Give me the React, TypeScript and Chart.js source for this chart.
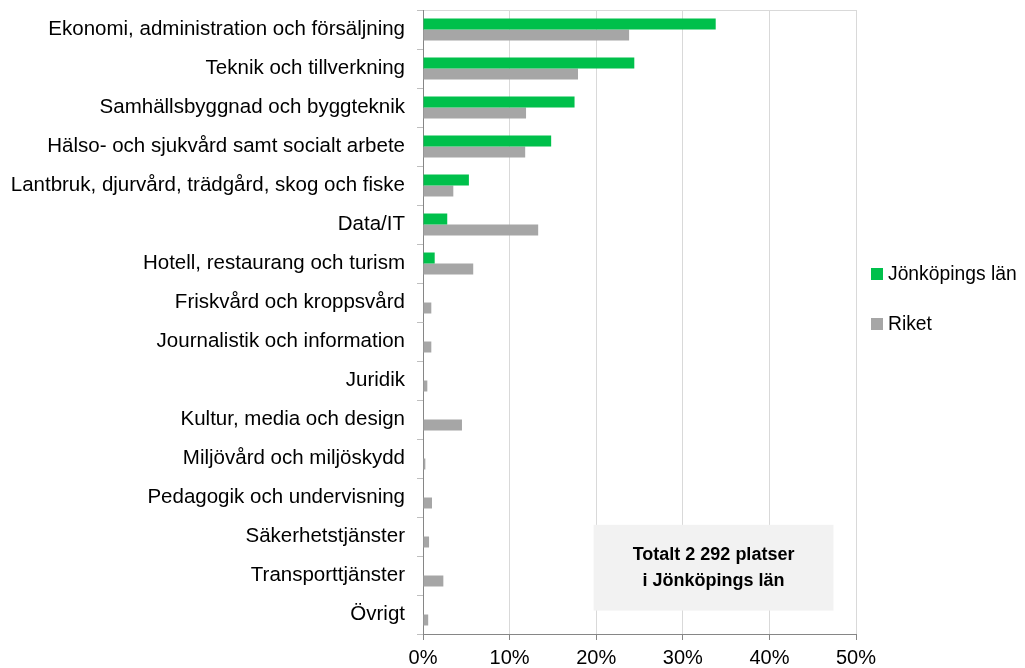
import React, { useEffect, useRef } from "react";
import { Chart, registerables } from "chart.js";

Chart.register(...registerables);

const categories = [
  "Ekonomi, administration och försäljning",
  "Teknik och tillverkning",
  "Samhällsbyggnad och byggteknik",
  "Hälso- och sjukvård samt socialt arbete",
  "Lantbruk, djurvård, trädgård, skog och fiske",
  "Data/IT",
  "Hotell, restaurang och turism",
  "Friskvård och kroppsvård",
  "Journalistik och information",
  "Juridik",
  "Kultur, media och design",
  "Miljövård och miljöskydd",
  "Pedagogik och undervisning",
  "Säkerhetstjänster",
  "Transporttjänster",
  "Övrigt",
];

const jonkopingValues = [33.8, 24.4, 17.5, 14.8, 5.3, 2.8, 1.35, 0, 0, 0, 0, 0, 0, 0, 0, 0];
const riketValues = [23.8, 17.9, 11.9, 11.8, 3.5, 13.3, 5.8, 0.96, 0.96, 0.5, 4.5, 0.27, 1.04, 0.7, 2.35, 0.6];

const seriesNames = ["Jönköpings län", "Riket"];
const seriesColors = ["#00C04B", "#A6A6A6"];
const xTicks = [0, 10, 20, 30, 40, 50];
const boxLines = ["Totalt 2 292 platser", "i Jönköpings län"];

const FONT = "'Liberation Sans', Arial, sans-serif";

const extrasPlugin = {
  id: "extras",
  afterDraw(chart: any) {
    const ctx = chart.ctx;
    const x = chart.scales.x;
    const y = chart.scales.y;
    const area = chart.chartArea;
    ctx.save();
    // annotation box
    const bx1 = x.getPixelForValue(19.7);
    const bx2 = x.getPixelForValue(47.4);
    const by1 = y.getPixelForValue(12.7);
    const by2 = y.getPixelForValue(14.9);
    ctx.fillStyle = "#F2F2F2";
    ctx.fillRect(bx1, by1, bx2 - bx1, by2 - by1);
    ctx.fillStyle = "#000";
    ctx.font = `bold 18px ${FONT}`;
    ctx.textAlign = "center";
    ctx.textBaseline = "middle";
    const cx = (bx1 + bx2) / 2;
    const cy = (by1 + by2) / 2;
    ctx.fillText(boxLines[0], cx, cy - 13);
    ctx.fillText(boxLines[1], cx, cy + 13);
    // legend
    const lx = area.right + 15;
    const ly = [274, 324];
    ctx.font = `19.3px ${FONT}`;
    ctx.textAlign = "left";
    seriesNames.forEach((name, i) => {
      ctx.fillStyle = seriesColors[i];
      ctx.fillRect(lx, ly[i] - 6, 12, 12);
      ctx.fillStyle = "#000";
      ctx.fillText(name, lx + 17, ly[i] + 1);
    });
    ctx.restore();
  },
};

export default function App() {
  const ref = useRef<HTMLCanvasElement>(null);
  useEffect(() => {
    document.body.style.margin = "0";
    const chart = new Chart(ref.current!, {
      type: "bar",
      data: {
        labels: categories,
        datasets: [
          {
            label: seriesNames[0],
            data: jonkopingValues,
            backgroundColor: seriesColors[0],
            categoryPercentage: 0.564,
            barPercentage: 1,
          },
          {
            label: seriesNames[1],
            data: riketValues,
            backgroundColor: seriesColors[1],
            categoryPercentage: 0.564,
            barPercentage: 1,
          },
        ],
      },
      options: {
        indexAxis: "y",
        animation: false,
        responsive: false,
        maintainAspectRatio: false,
        layout: { padding: { top: 10, right: 169, left: 0, bottom: 0 } },
        plugins: { legend: { display: false }, tooltip: { enabled: false } },
        scales: {
          x: {
            min: 0,
            max: 50,
            afterBuildTicks: (s: any) => {
              s.ticks = xTicks.map((v) => ({ value: v }));
            },
            afterFit: (s: any) => {
              s.height = 34;
            },
            ticks: {
              color: "#000",
              font: { family: FONT, size: 20 },
              padding: 6,
              callback: (v: any) => v + "%",
            },
            grid: { color: "#D9D9D9", tickColor: "#868686", tickLength: 6 },
            border: { color: "#868686" },
          },
          y: {
            afterFit: (s: any) => {
              s.width = 423;
              s.paddingTop = 0;
              s.paddingBottom = 0;
            },
            ticks: {
              color: "#000",
              font: { family: FONT, size: 20.5 },
              padding: 12,
            },
            grid: {
              color: (c: any) => (c.index === 0 ? "#D9D9D9" : "rgba(0,0,0,0)"),
              tickColor: "#BFBFBF",
              tickLength: 6,
            },
            border: { color: "#868686" },
          },
        },
      },
      plugins: [extrasPlugin],
    });
    return () => chart.destroy();
  }, []);
  return (
    <div style={{ position: "absolute", left: 0, top: 0, width: 1025, height: 668, background: "#fff" }}>
      <canvas ref={ref} width={1025} height={668} style={{ width: 1025, height: 668 }} />
    </div>
  );
}
